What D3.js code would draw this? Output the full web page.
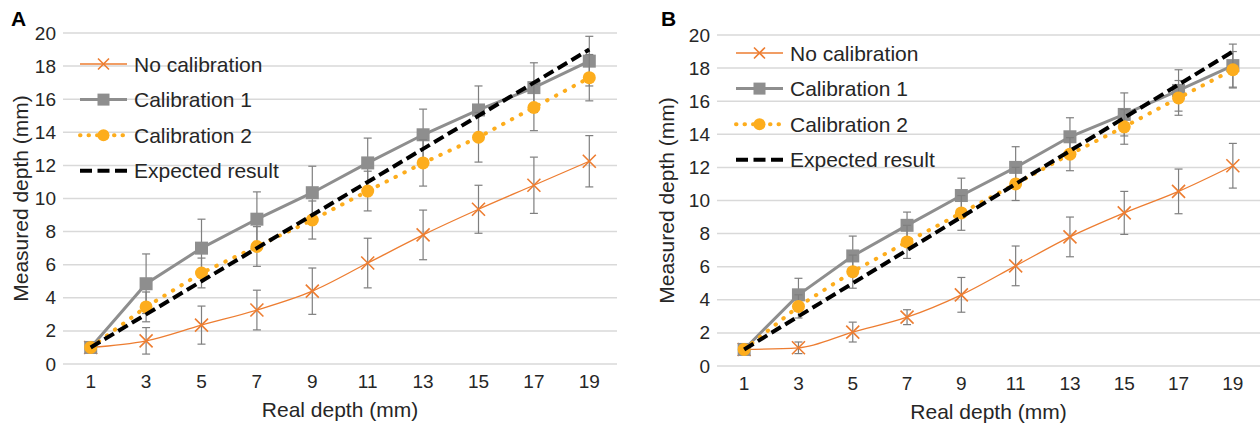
<!DOCTYPE html>
<html>
<head>
<meta charset="utf-8">
<script src="https://cdn.jsdelivr.net/npm/d3@7"></script>
<style>
  body { margin: 0; background: #fff; }
  svg { display: block; font-family: "Liberation Sans", Arial, sans-serif; }
</style>
</head>
<body>
<svg id="chart" width="1260" height="430"></svg>
<script>
// Real depths (categories) and y ticks
const realDepth = [1, 3, 5, 7, 9, 11, 13, 15, 17, 19];
const yTicks = [0, 2, 4, 6, 8, 10, 12, 14, 16, 18, 20];
const seriesNames = ['No calibration', 'Calibration 1', 'Calibration 2', 'Expected result'];
const expected = [1, 3, 5, 7, 9, 11, 13, 15, 17, 19];

// Panel A
const noCalA = [1.0, 1.4, 2.35, 3.26, 4.4, 6.1, 7.8, 9.35, 10.8, 12.25];
const noCalErrA = [0, 0.8, 1.15, 1.2, 1.4, 1.5, 1.5, 1.45, 1.7, 1.55];
const cal1A = [1.0, 4.85, 7.0, 8.75, 10.35, 12.15, 13.85, 15.35, 16.7, 18.3];
const cal1ErrA = [0, 1.8, 1.75, 1.65, 1.6, 1.5, 1.55, 1.45, 1.5, 1.5];
const cal2A = [1.0, 3.45, 5.5, 7.1, 8.7, 10.45, 12.15, 13.7, 15.5, 17.3];
const cal2ErrA = [0, 0.9, 0.9, 1.2, 1.15, 1.2, 1.4, 1.5, 1.4, 1.4];

// Panel B
const noCalB = [1.0, 1.1, 2.05, 2.95, 4.3, 6.05, 7.8, 9.25, 10.55, 12.1];
const noCalErrB = [0, 0.35, 0.6, 0.45, 1.05, 1.2, 1.2, 1.3, 1.35, 1.35];
const cal1B = [1.0, 4.3, 6.65, 8.5, 10.3, 12.0, 13.85, 15.2, 16.65, 18.15];
const cal1ErrB = [0, 1.0, 1.2, 0.8, 1.05, 1.25, 1.15, 1.3, 1.25, 1.3];
const cal2B = [1.0, 3.6, 5.7, 7.5, 9.25, 11.0, 12.8, 14.45, 16.2, 17.9];
const cal2ErrB = [0, 0.7, 1.0, 1.0, 1.05, 1.0, 1.0, 1.05, 1.05, 1.1];

const ORANGE = '#ed7d31';
const GRAY = '#8e8e8e';
const GOLD = '#fdad1d';
const TEXT = '#262626';

const svg = d3.select('#chart');

function drawPanel(cfg) {
  const g = svg.append('g');
  const x = d3.scalePoint().domain(realDepth).range([cfg.left, cfg.right]).padding(0.5);
  const y = d3.scaleLinear().domain([0, 20]).range([cfg.bottom, cfg.top]);

  // gridlines
  g.append('g').selectAll('line').data(yTicks).join('line')
    .attr('x1', cfg.left).attr('x2', cfg.right)
    .attr('y1', (d) => y(d)).attr('y2', (d) => y(d))
    .attr('stroke', '#d9d9d9').attr('stroke-width', 1.5);

  // y axis labels
  g.append('g').selectAll('text').data(yTicks).join('text')
    .attr('x', cfg.left - 7).attr('y', (d) => y(d))
    .attr('text-anchor', 'end').attr('dominant-baseline', 'central')
    .attr('font-size', 19).attr('fill', TEXT)
    .text((d) => d);

  // x axis labels
  g.append('g').selectAll('text').data(realDepth).join('text')
    .attr('x', (d) => x(d)).attr('y', cfg.bottom + 24)
    .attr('text-anchor', 'middle')
    .attr('font-size', 19).attr('fill', TEXT)
    .text((d) => d);

  // axis titles
  g.append('text')
    .attr('x', (cfg.left + cfg.right) / 2).attr('y', cfg.bottom + 53)
    .attr('text-anchor', 'middle').attr('font-size', 21).attr('fill', TEXT)
    .text('Real depth (mm)');
  g.append('text')
    .attr('transform', `translate(${cfg.ytitleX},${(cfg.top + cfg.bottom) / 2}) rotate(-90)`)
    .attr('text-anchor', 'middle').attr('dominant-baseline', 'central')
    .attr('font-size', 21).attr('fill', TEXT)
    .text('Measured depth (mm)');

  // panel letter
  g.append('text')
    .attr('x', cfg.letterX).attr('y', 26)
    .attr('font-size', 21).attr('font-weight', 'bold').attr('fill', '#000')
    .text(cfg.letter);

  const rows = realDepth.map((d, i) => ({ d, i }));

  function errorBars(vals, errs) {
    const eb = g.append('g').attr('stroke', '#7f7f7f').attr('stroke-width', 1.2);
    rows.filter((r) => errs[r.i] > 0).forEach((r) => {
      const cx = x(r.d);
      const y0 = y(vals[r.i] - errs[r.i]);
      const y1 = y(vals[r.i] + errs[r.i]);
      eb.append('line').attr('x1', cx).attr('x2', cx).attr('y1', y0).attr('y2', y1);
      eb.append('line').attr('x1', cx - 4).attr('x2', cx + 4).attr('y1', y0).attr('y2', y0);
      eb.append('line').attr('x1', cx - 4).attr('x2', cx + 4).attr('y1', y1).attr('y2', y1);
    });
  }

  const line = (vals, curve) => d3.line()
    .x((r) => x(r.d)).y((r) => y(vals[r.i]))
    .curve(curve || d3.curveLinear)(rows);

  // No calibration (smoothed line)
  errorBars(cfg.noCal, cfg.noCalErr);
  g.append('path').attr('d', line(cfg.noCal, d3.curveMonotoneX))
    .attr('fill', 'none').attr('stroke', ORANGE).attr('stroke-width', 1.3);
  g.append('g').selectAll('path').data(rows).join('path')
    .attr('d', (r) => crossPath(x(r.d), y(cfg.noCal[r.i]), 6.5))
    .attr('stroke', ORANGE).attr('stroke-width', 1.6).attr('fill', 'none');

  // Calibration 1
  errorBars(cfg.cal1, cfg.cal1Err);
  g.append('path').attr('d', line(cfg.cal1))
    .attr('fill', 'none').attr('stroke', GRAY).attr('stroke-width', 3);
  g.append('g').selectAll('rect').data(rows).join('rect')
    .attr('x', (r) => x(r.d) - 6.5).attr('y', (r) => y(cfg.cal1[r.i]) - 6.5)
    .attr('width', 13).attr('height', 13).attr('fill', GRAY);

  // Calibration 2
  errorBars(cfg.cal2, cfg.cal2Err);
  g.append('path').attr('d', line(cfg.cal2))
    .attr('fill', 'none').attr('stroke', GOLD).attr('stroke-width', 4)
    .attr('stroke-dasharray', '0.5 9.5').attr('stroke-linecap', 'round');
  g.append('g').selectAll('circle').data(rows).join('circle')
    .attr('cx', (r) => x(r.d)).attr('cy', (r) => y(cfg.cal2[r.i]))
    .attr('r', 6.5).attr('fill', GOLD);

  // Expected result
  g.append('path').attr('d', line(expected))
    .attr('fill', 'none').attr('stroke', '#000').attr('stroke-width', 4)
    .attr('stroke-dasharray', '11 5');

  // legend
  const lg = g.append('g');
  seriesNames.forEach((name, i) => {
    const ly = cfg.legendY + i * 35.6;
    const lx0 = cfg.legendX;
    const lx1 = lx0 + 47;
    const mx = (lx0 + lx1) / 2;
    const ln = lg.append('line').attr('x1', lx0).attr('x2', lx1).attr('y1', ly).attr('y2', ly);
    if (i === 0) {
      ln.attr('stroke', ORANGE).attr('stroke-width', 1.3);
      lg.append('path').attr('d', crossPath(mx, ly, 5.5))
        .attr('stroke', ORANGE).attr('stroke-width', 1.6).attr('fill', 'none');
    } else if (i === 1) {
      ln.attr('stroke', GRAY).attr('stroke-width', 3);
      lg.append('rect').attr('x', mx - 6).attr('y', ly - 6).attr('width', 12).attr('height', 12).attr('fill', GRAY);
    } else if (i === 2) {
      ln.attr('stroke', GOLD).attr('stroke-width', 4)
        .attr('stroke-dasharray', '0.5 8').attr('stroke-linecap', 'round');
      lg.append('circle').attr('cx', mx).attr('cy', ly).attr('r', 6).attr('fill', GOLD);
    } else {
      ln.attr('stroke', '#000').attr('stroke-width', 4).attr('stroke-dasharray', '12 5.5');
    }
    lg.append('text')
      .attr('x', lx1 + 7).attr('y', ly).attr('dominant-baseline', 'central')
      .attr('font-size', 21).attr('fill', TEXT)
      .text(name);
  });
}

function crossPath(cx, cy, s) {
  return `M${cx - s},${cy - s}L${cx + s},${cy + s}M${cx - s},${cy + s}L${cx + s},${cy - s}`;
}

drawPanel({
  letter: 'A', letterX: 11,
  left: 63, right: 617, top: 33, bottom: 364, ytitleX: 20,
  legendX: 80, legendY: 64,
  noCal: noCalA, noCalErr: noCalErrA,
  cal1: cal1A, cal1Err: cal1ErrA,
  cal2: cal2A, cal2Err: cal2ErrA,
});

drawPanel({
  letter: 'B', letterX: 661,
  left: 717, right: 1260, top: 35, bottom: 366, ytitleX: 666,
  legendX: 736, legendY: 53,
  noCal: noCalB, noCalErr: noCalErrB,
  cal1: cal1B, cal1Err: cal1ErrB,
  cal2: cal2B, cal2Err: cal2ErrB,
});
</script>
</body>
</html>
